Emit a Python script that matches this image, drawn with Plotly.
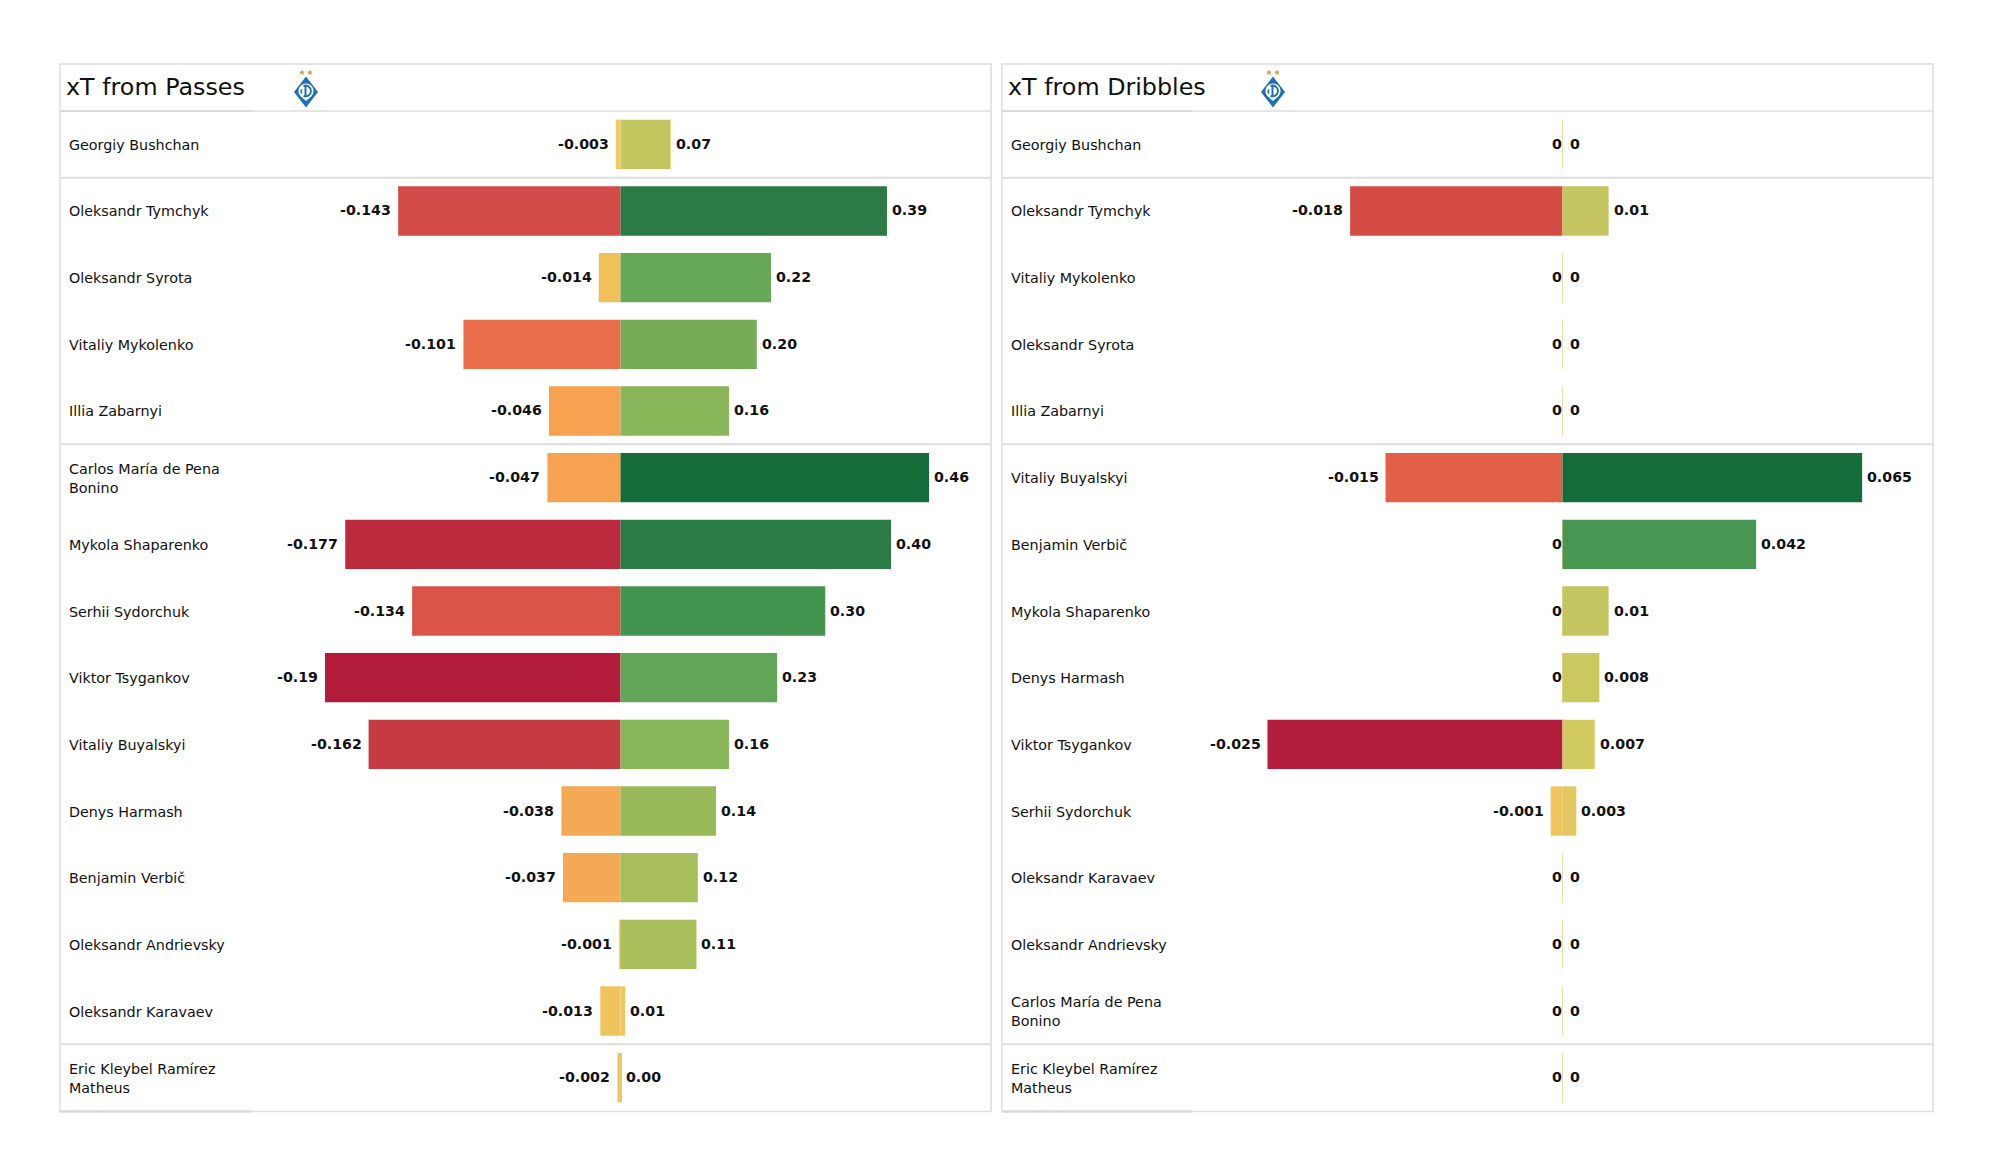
import base64
import plotly.graph_objects as go

# ---------- data ----------
pass_players = ["Georgiy Bushchan", "Oleksandr Tymchyk", "Oleksandr Syrota", "Vitaliy Mykolenko", "Illia Zabarnyi",
                "Carlos María de Pena<br>Bonino", "Mykola Shaparenko", "Serhii Sydorchuk", "Viktor Tsygankov",
                "Vitaliy Buyalskyi", "Denys Harmash", "Benjamin Verbič", "Oleksandr Andrievsky",
                "Oleksandr Karavaev", "Eric Kleybel Ramírez<br>Matheus"]
pass_neg = [-0.003, -0.143, -0.014, -0.101, -0.046, -0.047, -0.177, -0.134, -0.19, -0.162, -0.038, -0.037, -0.001, -0.013, -0.002]
pass_pos = [0.074, 0.393, 0.222, 0.201, 0.160, 0.455, 0.399, 0.302, 0.231, 0.160, 0.141, 0.114, 0.112, 0.007, 0.001]
pass_neg_labels = ["-0.003", "-0.143", "-0.014", "-0.101", "-0.046", "-0.047", "-0.177", "-0.134", "-0.19", "-0.162", "-0.038", "-0.037", "-0.001", "-0.013", "-0.002"]
pass_pos_labels = ["0.07", "0.39", "0.22", "0.20", "0.16", "0.46", "0.40", "0.30", "0.23", "0.16", "0.14", "0.12", "0.11", "0.01", "0.00"]
pass_neg_colors = ["#f3c963", "#d24b47", "#f0c05a", "#ea6e49", "#f7a251", "#f7a251", "#bc2a3e", "#da5548", "#b31b3b", "#c63a42", "#f4a955", "#f4a955", "#f2c95f", "#f0c45c", "#f0c860"]
pass_pos_colors = ["#c3c75f", "#2c7a45", "#66a856", "#74ac58", "#8ab65a", "#146c38", "#2b7b46", "#42944f", "#60a656", "#8ab65a", "#98ba5b", "#a8be5d", "#a9bf5c", "#f0c75f", "#f0c860"]

drib_players = ["Georgiy Bushchan", "Oleksandr Tymchyk", "Vitaliy Mykolenko", "Oleksandr Syrota", "Illia Zabarnyi",
                "Vitaliy Buyalskyi", "Benjamin Verbič", "Mykola Shaparenko", "Denys Harmash", "Viktor Tsygankov",
                "Serhii Sydorchuk", "Oleksandr Karavaev", "Oleksandr Andrievsky",
                "Carlos María de Pena<br>Bonino", "Eric Kleybel Ramírez<br>Matheus"]
drib_neg = [0, -0.018, 0, 0, 0, -0.015, 0, 0, 0, -0.025, -0.001, 0, 0, 0, 0]
drib_pos = [0, 0.01, 0, 0, 0, 0.065, 0.042, 0.01, 0.008, 0.007, 0.003, 0, 0, 0, 0]
drib_neg_labels = ["0", "-0.018", "0", "0", "0", "-0.015", "0", "0", "0", "-0.025", "-0.001", "0", "0", "0", "0"]
drib_pos_labels = ["0", "0.01", "0", "0", "0", "0.065", "0.042", "0.01", "0.008", "0.007", "0.003", "0", "0", "0", "0"]
ZERO = "#efe0a5"
drib_neg_colors = [ZERO, "#d54c45", ZERO, ZERO, ZERO, "#e26048", ZERO, ZERO, ZERO, "#b21e3c", "#f1c45c", ZERO, ZERO, ZERO, ZERO]
drib_pos_colors = [ZERO, "#c3c660", ZERO, ZERO, ZERO, "#146c38", "#489651", "#c3c660", "#cbc860", "#d0ca60", "#e2c860", ZERO, ZERO, ZERO, ZERO]

titles = ["xT from Passes", "xT from Dribbles"]
group_breaks = [0.5, 4.5, 13.5]

# ---------- layout constants (pixels in the 2000x1175 page) ----------
W, H = 2000, 1175
LINE = "#dddddd"
TOP, HEAD, BOTTOM = 64, 111, 1111
FONT = "DejaVu Sans"
panels = [
    dict(left=60, right=991, zero=620.5, kneg=1555, kpos=678, logo=306, ax=("x", "x3"), yref="y",
         players=pass_players, neg=pass_neg, pos=pass_pos, nl=pass_neg_labels, pl=pass_pos_labels,
         nc=pass_neg_colors, pc=pass_pos_colors, title=titles[0]),
    dict(left=1002, right=1933, zero=1562.5, kneg=11800, kpos=4610, logo=1273, ax=("x2", "x4"), yref="y2",
         players=drib_players, neg=drib_neg, pos=drib_pos, nl=drib_neg_labels, pl=drib_pos_labels,
         nc=drib_neg_colors, pc=drib_pos_colors, title=titles[1]),
]

logo_svg = """<svg xmlns="http://www.w3.org/2000/svg" viewBox="0 0 24 38">
<polygon points="8,0 9,2 11,2.3 9.4,3.6 10,5.6 8,4.5 6,5.6 6.6,3.6 5,2.3 7,2" fill="#c9a45a"/>
<polygon points="16,0 17,2 19,2.3 17.4,3.6 18,5.6 16,4.5 14,5.6 14.6,3.6 13,2.3 15,2" fill="#c9a45a"/>
<polygon points="12,7 24,22.5 12,38 0,22.5" fill="#1e6fb5"/>
<circle cx="12" cy="21.5" r="7.6" fill="#ffffff"/>
<path d="M9.5 16.5 A5.4 5.4 0 1 1 9.5 26.5" fill="none" stroke="#1e6fb5" stroke-width="1.9"/>
<path d="M11.5 16 V27" fill="none" stroke="#1e6fb5" stroke-width="2"/>
<path d="M8 20 A3 3 0 0 0 8 24" fill="none" stroke="#1e6fb5" stroke-width="1.4"/>
<polygon points="12,31.5 16,28 8,28" fill="#ffffff"/>
</svg>"""
logo_uri = "data:image/svg+xml;base64," + base64.b64encode(logo_svg.encode()).decode()

fig = go.Figure()
annotations, shapes, images = [], [], []
layout_axes = {}

for i, p in enumerate(panels):
    yname = "y" if i == 0 else "y2"
    neg_ax, pos_ax = p["ax"]
    for xa, vals, cols in ((neg_ax, p["neg"], p["nc"]), (pos_ax, p["pos"], p["pc"])):
        fig.add_trace(go.Bar(
            y=p["players"], x=vals, orientation="h", xaxis=xa, yaxis=yname, width=0.74,
            marker=dict(color=cols, line=dict(color=cols, width=[1 if v == 0 else 0 for v in vals])),
            hoverinfo="skip", showlegend=False))

    # axis scales: separate pixels-per-unit for the negative and positive side, common zero
    wpx = p["right"] - p["left"]
    off = p["zero"] - p["left"]
    dom = [p["left"] / W, p["right"] / W]
    def key(a):
        return "xaxis" + a[1:]
    common = dict(domain=dom, visible=False, fixedrange=True, showgrid=False, zeroline=False, anchor=yname)
    layout_axes[key(neg_ax)] = dict(common, range=[-off / p["kneg"], (wpx - off) / p["kneg"]])
    layout_axes[key(pos_ax)] = dict(common, range=[-off / p["kpos"], (wpx - off) / p["kpos"]], overlaying=neg_ax)
    layout_axes["yaxis" + ("" if i == 0 else "2")] = dict(
        domain=[1 - BOTTOM / H, 1 - HEAD / H], type="category", categoryorder="array",
        categoryarray=p["players"], range=[14.5, -0.5], visible=False, fixedrange=True,
        showgrid=False, zeroline=False, anchor=neg_ax)

    # labels
    for name, n, po, nl, pl in zip(p["players"], p["neg"], p["pos"], p["nl"], p["pl"]):
        annotations.append(dict(x=(p["left"] + 6.5) / W, xref="paper", y=name, yref=yname, text=name, showarrow=False,
                                xanchor="left", align="left", font=dict(family=FONT, size=14.3, color="#111111"),
                                yshift=-0.5))
        annotations.append(dict(x=n, xref=neg_ax, y=name, yref=yname, text=f"<b>{nl}</b>", showarrow=False,
                                xanchor="right", xshift=-5 if n != 0 else 1, yshift=0.5,
                                font=dict(family=FONT, size=14.2, color="#111111")))
        annotations.append(dict(x=po, xref=pos_ax, y=name, yref=yname, text=f"<b>{pl}</b>", showarrow=False,
                                xanchor="left", xshift=3 if po != 0 else 5, yshift=0.5,
                                font=dict(family=FONT, size=14.2, color="#111111")))
    annotations.append(dict(x=(p["left"] + 3.5) / W, xref="paper", y=1 - 86.5 / H, yref="paper", text=p["title"],
                            showarrow=False, xanchor="left", yanchor="middle",
                            font=dict(family=FONT, size=23.8, color="#111111")))

    # frame and separators
    line = dict(color=LINE, width=2)
    px = lambda v: v / W
    py = lambda v: 1 - v / H
    shapes.append(dict(type="rect", xref="paper", yref="paper", x0=px(p["left"]), x1=px(p["right"]),
                       y0=py(BOTTOM + 0.5), y1=py(TOP), line=dict(color=LINE, width=1.5), layer="below"))
    shapes.append(dict(type="line", xref="paper", yref="paper", x0=px(p["left"]), x1=px(p["right"]),
                       y0=py(HEAD), y1=py(HEAD), line=dict(color=LINE, width=1.5), layer="below"))
    for b in group_breaks:
        shapes.append(dict(type="line", xref="paper", yref=yname, x0=px(p["left"]), x1=px(p["right"]),
                           y0=b, y1=b, line=line, layer="below"))
    # slightly darker stretch of the rules under the name column
    for yy, lw in ((HEAD, 2), (BOTTOM + 0.5, 2.5)):
        shapes.append(dict(type="line", xref="paper", yref="paper", x0=px(p["left"]), x1=px(p["left"] + 190),
                           y0=py(yy), y1=py(yy), line=dict(color="#dadada", width=lw), layer="below"))

    images.append(dict(source=logo_uri, xref="paper", yref="paper", x=px(p["logo"]), y=py(88.5), sizex=px(24),
                       sizey=38 / H, xanchor="center", yanchor="middle", sizing="contain", layer="above"))

fig.update_layout(
    width=W, height=H, margin=dict(l=0, r=0, t=0, b=0), paper_bgcolor="white", plot_bgcolor="rgba(0,0,0,0)",
    barmode="overlay", showlegend=False, annotations=annotations, shapes=shapes, images=images,
    font=dict(family=FONT), **layout_axes)

fig.write_html("out.html", post_script="document.body.style.margin='0';", config={"displayModeBar": False})
